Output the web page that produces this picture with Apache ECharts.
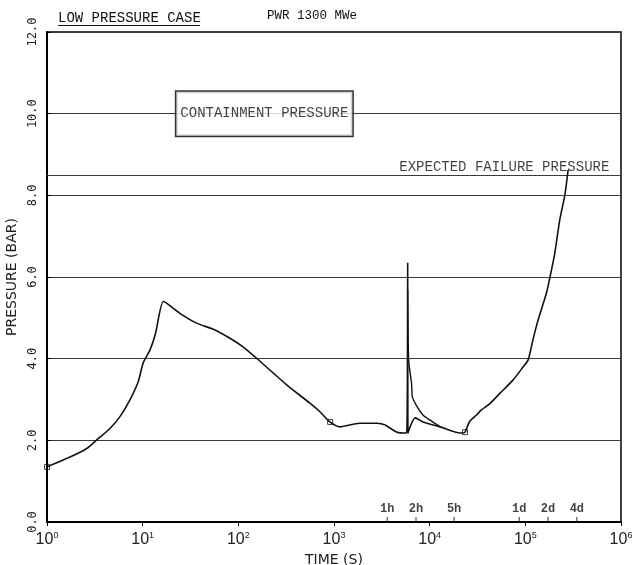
<!DOCTYPE html>
<html>
<head>
<meta charset="utf-8">
<script src="https://cdn.jsdelivr.net/npm/echarts@6/dist/echarts.min.js"></script>
<style>html,body{margin:0;padding:0;background:#fff;}#c{width:635px;height:565px;}</style>
</head>
<body>
<div id="c"></div>
<script>
// main pressure history (time in s, pressure in bar)
const times = [1, 1.74, 2.6, 3.31, 4.55, 5.79, 7.36, 9.0, 10.1, 11.9, 13.5, 16.4, 17.8, 24.5, 36.6, 54.7, 81.7, 112, 155, 320, 560, 713, 906, 1150, 1860, 2820, 3390, 4570, 5750, 5890, 5920, 7080, 8510, 12900, 20900, 23400, 26000, 30900, 34500, 42600, 54100, 74600, 94900, 107000, 120000, 136000, 166000, 180000, 203000, 229000, 259000, 280000];
const pressures = [1.35, 1.59, 1.80, 2.01, 2.29, 2.58, 2.99, 3.44, 3.89, 4.21, 4.58, 5.40, 5.36, 5.11, 4.87, 4.72, 4.50, 4.29, 4.01, 3.36, 2.91, 2.70, 2.45, 2.33, 2.42, 2.42, 2.38, 2.2, 2.18, 6.34, 2.18, 2.55, 2.45, 2.33, 2.18, 2.2, 2.45, 2.62, 2.74, 2.9, 3.15, 3.48, 3.80, 3.97, 4.46, 4.95, 5.6, 5.97, 6.58, 7.40, 8.01, 8.62];
// decay branch after the pressure spike
const decayTimes = [5890, 6030, 6460, 6610, 7410, 8510, 10000, 12900];
const decayPressures = [5.7, 3.97, 3.4, 3.06, 2.82, 2.62, 2.5, 2.33];
// square markers
const markerTimes = [1, 912, 23400];
const markerPressures = [1.35, 2.45, 2.2];
// time marks on the axis
const timeMarkTimes = [3600, 7200, 18000, 86400, 172800, 345600];
const timeMarkLabels = ['1h', '2h', '5h', '1d', '2d', '4d'];
// reference pressures
const failurePressure = 8.5;
const containmentLabel = 'CONTAINMENT PRESSURE';
const containmentAnchor = [187, 10];
const failureLabel = 'EXPECTED FAILURE PRESSURE';
const failureAnchor = [60300, 8.69];
// axis
const yMin = 0, yMax = 12, yStep = 2;
const xMin = 1, xMax = 1000000;

const mono = 'Liberation Mono';
const chart = echarts.init(document.getElementById('c'), null, {renderer: 'canvas'});
const option = {
  animation: false,
  backgroundColor: '#fff',
  grid: {left: 47, right: 14, top: 32, bottom: 43, outerBoundsMode: 'none', containLabel: false,
    show: true, borderColor: '#000', borderWidth: 1.5, backgroundColor: 'transparent'},
  graphic: [
    {type: 'text', left: 58, top: 11, style: {text: 'LOW PRESSURE CASE', font: '14px "Liberation Mono"', fill: '#111'}},
    {type: 'line', shape: {x1: 58, y1: 25.5, x2: 200, y2: 25.5}, style: {stroke: '#111', lineWidth: 1}},
    {type: 'text', left: 267, top: 9, style: {text: 'PWR 1300 MWe', font: '12.5px "Liberation Mono"', fill: '#111'}}
  ],
  xAxis: {
    type: 'log', logBase: 10, min: xMin, max: xMax, splitNumber: 6,
    name: 'TIME (S)', nameLocation: 'middle', nameGap: 25,
    nameTextStyle: {fontFamily: 'DejaVu Sans', fontSize: 14, color: '#222'},
    axisLine: {lineStyle: {color: '#000', width: 2}},
    axisTick: {show: true, length: 4, lineStyle: {color: '#000'}},
    splitLine: {show: false},
    axisLabel: {
      margin: 9, color: '#222',
      formatter: v => '{b|10}{s|' + Math.round(Math.log10(v)) + '}',
      rich: {
        b: {fontFamily: 'Liberation Sans', fontSize: 16, color: '#222'},
        s: {fontFamily: 'Liberation Sans', fontSize: 9, color: '#222', verticalAlign: 'top', padding: [0, 0, 9, 0]}
      }
    }
  },
  yAxis: {
    type: 'value', min: yMin, max: yMax, interval: yStep,
    name: 'PRESSURE (BAR)', nameLocation: 'middle', nameGap: 24, nameRotate: 90,
    nameTextStyle: {fontFamily: 'DejaVu Sans', fontSize: 14, color: '#222'},
    axisLine: {show: true, lineStyle: {color: '#000', width: 2}},
    axisTick: {show: true, inside: true, length: 4, lineStyle: {color: '#000'}},
    splitLine: {show: true, lineStyle: {color: '#3a3a3a', width: 1}},
    axisLabel: {rotate: 90, margin: 8, fontFamily: 'DejaVu Sans Mono', fontSize: 12, color: '#222', formatter: v => v.toFixed(1)}
  },
  series: [
    {
      type: 'line', data: times.map((t, i) => [t, pressures[i]]),
      symbol: 'none', smooth: 0.25, lineStyle: {color: '#111', width: 1.6}, z: 5,
      markLine: {silent: true, symbol: 'none', label: {show: false},
        lineStyle: {color: '#3a3a3a', width: 1, type: 'solid'},
        data: [{yAxis: failurePressure}]}
    },
    {
      type: 'line', data: decayTimes.map((t, i) => [t, decayPressures[i]]),
      symbol: 'none', smooth: 0.25, lineStyle: {color: '#111', width: 1.4}, z: 5
    },
    {
      type: 'scatter', data: markerTimes.map((t, i) => [t, markerPressures[i]]),
      symbol: 'rect', symbolSize: 5, clip: false,
      itemStyle: {color: 'rgba(0,0,0,0)', borderColor: '#111', borderWidth: 1}, z: 6
    },
    {
      type: 'scatter', data: timeMarkTimes.map((t, i) => ({value: [t, 0], label: {formatter: timeMarkLabels[i]}})),
      symbol: 'rect', symbolSize: [1, 5], symbolOffset: [0, -2.5], clip: false,
      itemStyle: {color: '#000'},
      label: {show: true, position: 'top', distance: 2, fontFamily: mono, fontWeight: 'bold', fontSize: 12, color: '#111'}
    },
    {
      type: 'scatter', symbolSize: 0, z: 10, clip: false,
      data: [
        {value: containmentAnchor, label: {show: true, position: 'inside', formatter: containmentLabel,
          fontFamily: mono, fontSize: 14, color: '#111', backgroundColor: '#fff',
          borderColor: '#000', borderWidth: 1.5, padding: [15, 4, 15, 4]}},
        {value: failureAnchor, label: {show: true, position: 'inside', formatter: failureLabel,
          fontFamily: mono, fontSize: 14, color: '#111'}}
      ]
    }
  ]
};
chart.setOption(option);
</script>
</body>
</html>
